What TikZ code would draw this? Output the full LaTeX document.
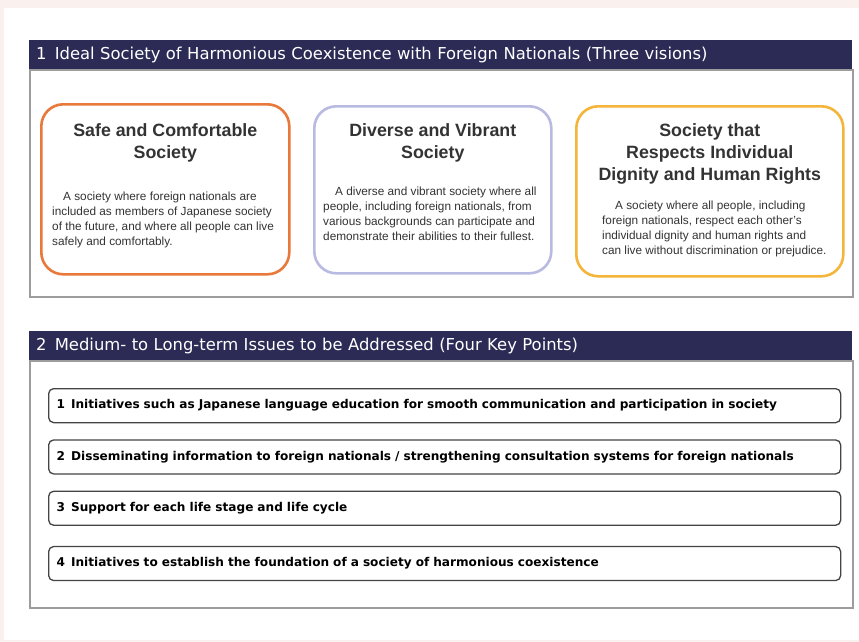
\documentclass[tikz,border=0pt]{standalone}
\usepackage{fontspec}
\setmainfont{Liberation Sans}
\newfontfamily\verdfont{DejaVu Sans}
\usetikzlibrary{positioning}
\definecolor{pagebg}{HTML}{FAF0ED}
\definecolor{navybar}{HTML}{2C2B56}
\definecolor{framegray}{HTML}{9C9C9C}
\definecolor{safeorange}{HTML}{E8793A}
\definecolor{diverselilac}{HTML}{B9BAE2}
\definecolor{dignityamber}{HTML}{F4B53A}
\definecolor{inkgray}{HTML}{333333}
\definecolor{itemline}{HTML}{444444}

\tikzset{
  headbar/.style={anchor=north west, fill=navybar, text=white,
    minimum width=823pt, minimum height=29pt, text width=809pt,
    inner xsep=7pt, align=left, font=\verdfont\fontsize{16.4}{18}\selectfont},
  panel/.style={anchor=north west, draw=framegray, line width=2pt,
    fill=white, minimum width=823pt},
  vision/.style={anchor=north west, draw=#1, line width=2.6pt,
    rounded corners=22pt, fill=white},
  visiontitle/.style={anchor=north, align=center, text=inkgray, inner sep=0pt,
    font=\bfseries\fontsize{17.8}{22}\selectfont},
  visiontext/.style={anchor=north west, align=left, text=inkgray, inner sep=0pt,
    font=\fontsize{11.8}{15}\selectfont},
  keypoint/.style={draw=itemline, line width=1.3pt, rounded corners=5pt,
    fill=white, minimum width=792pt, minimum height=34pt, text width=776pt,
    inner xsep=8pt, align=left,
    font=\verdfont\bfseries\fontsize{12.1}{14}\selectfont},
}

\begin{document}
\begin{tikzpicture}[x=1pt, y=-1pt]
\fill[pagebg] (0,0) rectangle (859,642);
\fill[white] (4,8) rectangle (859,640);
\useasboundingbox (0,0) rectangle (859,642);

% part 1: three visions
\node (panelA) [panel, minimum height=227pt] at (29,69) {};
\node (headA) [headbar] at (29,40)
  {1\enspace Ideal Society of Harmonious Coexistence with Foreign Nationals (Three visions)};

\node (safe) [vision=safeorange, minimum width=248pt, minimum height=170pt] at (40,103) {};
\node (safeT) [visiontitle, below=20pt of safe.north] {Safe and Comfortable\\Society};
\node (safeB) [visiontext] at ([shift={(12,89)}]safe.north west)
  {\hspace*{11pt}A society where foreign nationals are\\
   included as members of Japanese society\\
   of the future, and where all people can live\\
   safely and comfortably.};

\node (diverse) [vision=diverselilac, minimum width=237pt, minimum height=167pt] at (313,105) {};
\node (diverseT) [visiontitle, below=18pt of diverse.north] {Diverse and Vibrant\\Society};
\node (diverseB) [visiontext] at ([shift={(10,82)}]diverse.north west)
  {\hspace*{12pt}A diverse and vibrant society where all\\
   people, including foreign nationals, from\\
   various backgrounds can participate and\\
   demonstrate their abilities to their fullest.};

\node (dignity) [vision=dignityamber, minimum width=267pt, minimum height=170pt] at (575,105) {};
\node (dignityT) [visiontitle, below=18pt of dignity.north]
  {Society that\\Respects Individual\\Dignity and Human Rights};
\node (dignityB) [visiontext] at ([shift={(27,96)}]dignity.north west)
  {\hspace*{13pt}A society where all people, including\\
   foreign nationals, respect each other's\\
   individual dignity and human rights and\\
   can live without discrimination or prejudice.};

% part 2: four key points
\node (panelB) [panel, minimum height=247pt] at (29,360) {};
\node (headB) [headbar] at (29,331)
  {2\enspace Medium- to Long-term Issues to be Addressed (Four Key Points)};

\node (point1) [keypoint, anchor=north west] at (48,388)
  {1\enspace Initiatives such as Japanese language education for smooth communication and participation in society};
\node (point2) [keypoint, below=16pt of point1]
  {2\enspace Disseminating information to foreign nationals / strengthening consultation systems for foreign nationals};
\node (point3) [keypoint, below=16pt of point2]
  {3\enspace Support for each life stage and life cycle};
\node (point4) [keypoint, below=20pt of point3]
  {4\enspace Initiatives to establish the foundation of a society of harmonious coexistence};
\end{tikzpicture}
\end{document}
